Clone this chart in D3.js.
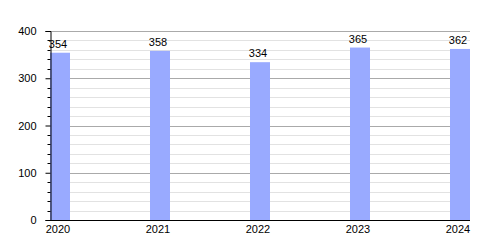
<!DOCTYPE html>
<html>
<head>
<meta charset="utf-8">
<script src="https://cdn.jsdelivr.net/npm/d3@7"></script>
<style>
  body { margin: 0; background: #fff; }
  text { font-family: "Liberation Sans", Arial, sans-serif; font-size: 11px; fill: #000; }
</style>
</head>
<body>
<div id="chart"></div>
<script>
const years = [2020, 2021, 2022, 2023, 2024];
const values = [354, 358, 334, 365, 362];
const yTicks = [0, 100, 200, 300, 400];

const width = 500;
const height = 250;
const plotLeft = 50, plotRight = 470, plotTop = 31, plotBottom = 220;
const barW = 20;

const svg = d3.select("#chart")
  .append("svg")
    .attr("width", width)
    .attr("height", height);

const x = d3.scaleLinear()
  .domain([2020, 2024])
  .range([plotLeft, plotRight - barW]);

const y = d3.scaleLinear()
  .domain([0, 400])
  .range([plotBottom, plotTop]);

const minor = d3.range(20, 400, 20).filter(v => v % 100 != 0);

// minor gridlines every 20
svg.append("g")
  .selectAll("line")
  .data(minor)
  .enter()
  .append("line")
    .attr("x1", plotLeft).attr("x2", plotRight)
    .attr("y1", d => Math.round(y(d)) + 0.5).attr("y2", d => Math.round(y(d)) + 0.5)
    .attr("stroke", "#e2e2e2");

// major gridlines
svg.append("g")
  .selectAll("line")
  .data(yTicks.filter(v => v > 0))
  .enter()
  .append("line")
    .attr("x1", plotLeft).attr("x2", plotRight)
    .attr("y1", d => Math.round(y(d)) + 0.5).attr("y2", d => Math.round(y(d)) + 0.5)
    .attr("stroke", "#aaaaaa");

// bars
svg.selectAll(".bar")
  .data(years)
  .enter()
  .append("rect")
    .attr("class", "bar")
    .attr("x", d => x(d))
    .attr("width", barW)
    .attr("y", (d, i) => y(values[i]))
    .attr("height", (d, i) => plotBottom - y(values[i]))
    .attr("fill", "#99aaff");

// value labels
svg.selectAll(".val")
  .data(years)
  .enter()
  .append("text")
    .attr("class", "val")
    .attr("x", d => x(d) + 8)
    .attr("y", (d, i) => y(values[i]) - 5)
    .attr("text-anchor", "middle")
    .text((d, i) => values[i]);

// y axis
const yAxis = d3.axisLeft(y)
  .tickValues(yTicks)
  .tickSize(5)
  .tickPadding(9);
const gy = svg.append("g")
  .attr("transform", "translate(" + (plotLeft + 0.5) + ",0)")
  .call(yAxis);
gy.select(".domain").attr("stroke", "#000");
gy.selectAll("text").style("font-size", "11px");

// minor ticks
svg.append("g")
  .selectAll("line")
  .data(minor)
  .enter()
  .append("line")
    .attr("x1", plotLeft - 2.5).attr("x2", plotLeft + 0.5)
    .attr("y1", d => Math.round(y(d)) + 0.5).attr("y2", d => Math.round(y(d)) + 0.5)
    .attr("stroke", "#000");

// x axis
svg.append("line")
  .attr("x1", plotLeft).attr("x2", plotRight)
  .attr("y1", plotBottom + 0.5).attr("y2", plotBottom + 0.5)
  .attr("stroke", "#000");

svg.selectAll(".xl")
  .data(years)
  .enter()
  .append("text")
    .attr("class", "xl")
    .attr("x", d => x(d) + 8)
    .attr("y", plotBottom + 13)
    .attr("text-anchor", "middle")
    .text(d => d);
</script>
</body>
</html>
